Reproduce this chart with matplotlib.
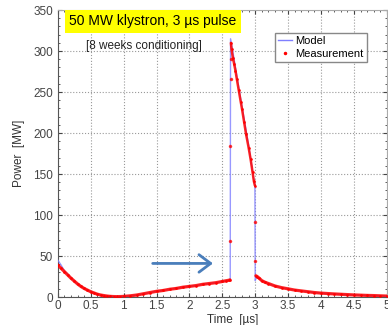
import matplotlib
matplotlib.use("Agg")
import matplotlib.pyplot as plt
from matplotlib.lines import Line2D
from matplotlib.ticker import MultipleLocator, AutoMinorLocator

plt.rcParams['font.family'] = ['Liberation Sans', 'DejaVu Sans']

# model curve (time in us, power in MW)
t_model = [0.0, 0.05, 0.1, 0.2, 0.3, 0.4, 0.5, 0.6, 0.7, 0.8, 0.9, 1.0, 1.1, 1.2,
           1.3, 1.4, 1.5, 1.6, 1.7, 1.8, 1.9, 2.0, 2.1, 2.2, 2.3, 2.4, 2.5, 2.6,
           2.62, 2.625, 2.65, 2.7, 2.8, 2.9, 2.98, 2.995, 3.0, 3.02, 3.05, 3.1,
           3.2, 3.3, 3.4, 3.5, 3.6, 3.7, 3.8, 3.9, 4.0, 4.2, 4.4, 4.6, 4.8, 5.0]
p_model = [45, 39, 32, 23.5, 16, 10.5, 6.5, 3.5, 1.8, 0.8, 0.5, 0.8, 1.5, 2.5,
           4, 5.5, 7, 8, 9.5, 10.5, 12, 13, 14, 15.5, 16.5, 17.5, 19, 20.5,
           21, 315, 304, 280, 232, 185, 142, 136, 20, 25, 23, 20,
           16.5, 13.5, 11.5, 10, 8.5, 7.5, 6.5, 5.5, 4.8, 3.8, 3.0, 2.3, 1.8, 1.2]

# measurement: before the pulse
t_meas_pre = [0.0, 0.05, 0.1, 0.15, 0.2, 0.25, 0.3, 0.35, 0.4, 0.45, 0.5, 0.55,
              0.6, 0.65, 0.7, 0.75, 0.8, 0.85, 0.9, 0.95, 1.0, 1.1, 1.2, 1.3,
              1.4, 1.5, 1.6, 1.7, 1.8, 1.9, 2.0, 2.1, 2.2, 2.3, 2.4, 2.5, 2.55,
              2.6, 2.615]
p_meas_pre = [39, 35, 31, 27, 23, 19.5, 16, 13, 10.5, 8.5, 6.5, 5, 3.5,
              2.5, 1.8, 1.2, 0.8, 0.6, 0.5, 0.6, 0.8, 1.5, 2.5, 4, 5.5, 7,
              8, 9.5, 10.5, 12, 13, 14, 15.5, 16.5, 17.5, 19, 19.8, 20.5, 21]
# measurement: pulse top
t_meas_top = [2.63, 2.64, 2.66, 2.68, 2.7, 2.72, 2.75, 2.78, 2.8, 2.83, 2.86,
              2.9, 2.93, 2.96, 2.98, 2.995]
p_meas_top = [310, 302, 292, 284, 276, 266, 252, 238, 229, 214, 199, 182,
              168, 152, 141, 136]
# measurement: after the pulse
t_meas_post = [3.01, 3.03, 3.06, 3.1, 3.15, 3.2, 3.3, 3.4, 3.5, 3.6, 3.7, 3.8,
               3.9, 4.0, 4.1, 4.2, 4.3, 4.4, 4.5, 4.6, 4.7, 4.8, 4.9, 5.0]
p_meas_post = [26, 25, 23, 20, 18, 16.5, 13.5, 11.5, 10, 8.5, 7.5, 6.5, 5.5,
               4.8, 4.3, 3.8, 3.4, 3.0, 2.6, 2.3, 2.0, 1.8, 1.5, 1.2]
# measurement: scattered samples on the edges
t_meas_edge = [2.62, 2.622, 2.625, 2.627, 3.0, 3.0]
p_meas_edge = [68, 184, 266, 290, 91, 44]

fig = plt.figure(figsize=(3.88, 3.25), dpi=100)
ax = fig.add_axes([0.149, 0.086, 0.848, 0.883])

ax.plot(t_model, p_model, color='#7f7fff', lw=1.0, alpha=0.8, zorder=3)
for tt, pp, w in [(t_meas_pre, p_meas_pre, 2.3), (t_meas_top, p_meas_top, 1.8),
                  (t_meas_post, p_meas_post, 2.3)]:
    ax.plot(tt, pp, color='red', lw=w, alpha=0.85, zorder=4,
            marker='.', ms=2, solid_capstyle='round')
ax.plot(t_meas_edge, p_meas_edge, ls='none', marker='.', ms=3, color='red',
        alpha=0.7, zorder=5)

ax.set_xlim(0, 5)
ax.set_ylim(0, 350)
ax.xaxis.set_major_locator(MultipleLocator(0.5))
ax.yaxis.set_major_locator(MultipleLocator(50))
ax.xaxis.set_minor_locator(AutoMinorLocator(5))
ax.yaxis.set_minor_locator(AutoMinorLocator(5))
ax.set_xticks([0, 0.5, 1, 1.5, 2, 2.5, 3, 3.5, 4, 4.5, 5])
ax.set_xticklabels(['0', '0.5', '1', '1.5', '2', '2.5', '3', '3.5', '4', '4.5', '5'])
ax.tick_params(which='both', direction='in', labelsize=8.5, colors='#444444',
               top=True, right=True)
ax.tick_params(which='major', length=3)
ax.tick_params(which='minor', length=1.5)
ax.tick_params(axis='x', pad=2)
ax.grid(True, which='major', ls=':', color='#999999', lw=0.8)
for s in ['left', 'bottom']:
    ax.spines[s].set_color('#555555')
for s in ['top', 'right']:
    ax.spines[s].set_color('#aaaaaa')

ax.set_xlabel('Time  [µs]', fontsize=8.5, color='#333333', labelpad=0)
ax.xaxis.set_label_coords(0.53, -0.058, transform=ax.transAxes)
ax.xaxis.label.set_va('top')
ax.set_ylabel('Power  [MW]', fontsize=8.5, color='#333333', labelpad=6)

ax.text(0.035, 0.985, '50 MW klystron, 3 µs pulse', transform=ax.transAxes,
        fontsize=10, va='top', ha='left', zorder=6,
        bbox=dict(boxstyle='square,pad=0.3', facecolor='#ffff00', edgecolor='none'))
ax.text(0.085, 0.895, '[8 weeks conditioning]', transform=ax.transAxes,
        fontsize=8.5, va='top', ha='left', color='#222222')

ax.annotate('', xy=(2.4, 41), xytext=(1.4, 41),
            arrowprops=dict(arrowstyle='->,head_length=0.6,head_width=0.45',
                            color='#4a7ebb', lw=2, mutation_scale=14), zorder=6)

handles = [Line2D([], [], color='#7f7fff', lw=1),
           Line2D([], [], color='red', ls='none', marker='.', ms=3)]
ax.legend(handles, ['Model', 'Measurement'], loc='upper left',
          bbox_to_anchor=(0.66, 0.92), fontsize=8, frameon=True, fancybox=False,
          edgecolor='#888888', framealpha=1, handlelength=1.2, handletextpad=0.3,
          borderpad=0.3, labelspacing=0.2, borderaxespad=0)

fig.savefig('out.png', dpi=100)
